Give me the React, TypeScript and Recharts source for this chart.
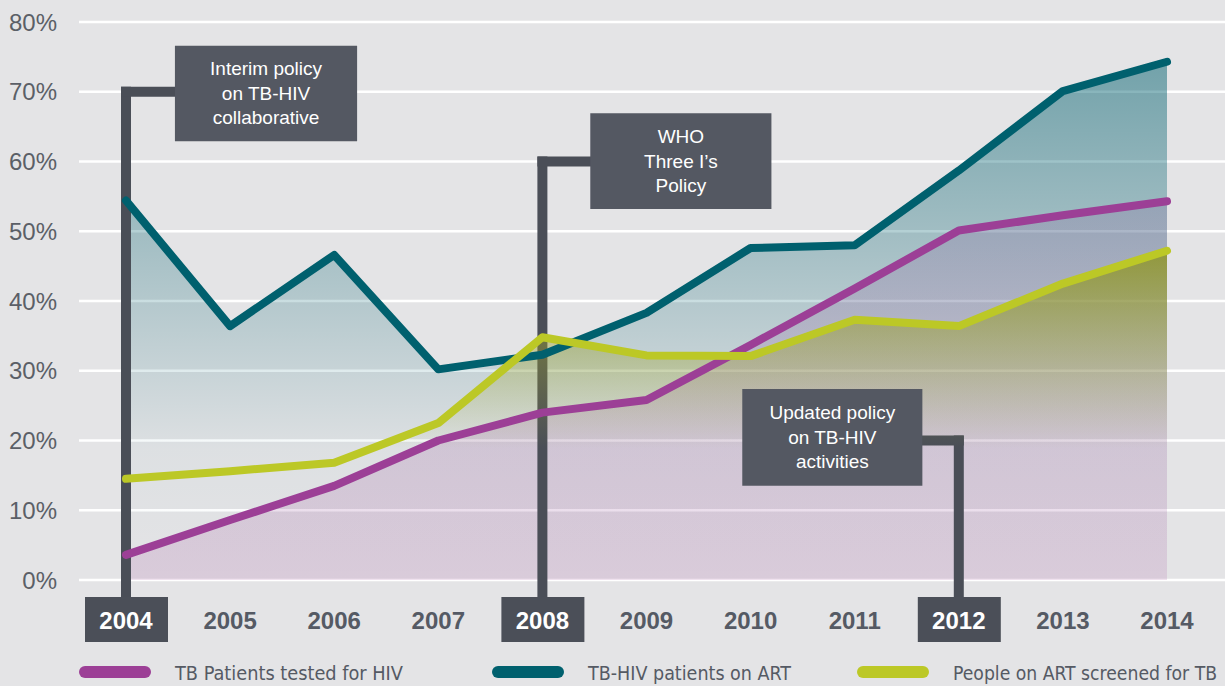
import {
  Area,
  CartesianGrid,
  ComposedChart,
  Legend,
  Line,
  ReferenceArea,
  ReferenceLine,
  XAxis,
  YAxis,
} from "recharts"

const years = [2004, 2005, 2006, 2007, 2008, 2009, 2010, 2011, 2012, 2013, 2014]
const tbTested = [3.6, 8.6, 13.5, 20, 24, 25.8, 33.7, 41.8, 50.1, 52.3, 54.3]
const tbHivArt = [54.4, 36.4, 46.6, 30.2, 32.3, 38.3, 47.6, 48, 58.7, 70.1, 74.3]
const artScreened = [14.5, 15.6, 16.8, 22.5, 34.8, 32.2, 32.1, 37.3, 36.4, 42.5, 47.2]

const yTicks = [0, 10, 20, 30, 40, 50, 60, 70, 80]
const highlightYears = [2004, 2008, 2012]

// policy milestones: year, level of the connector, box extent in data units
const noteYears = [2004, 2008, 2012]
const noteLevels = [70, 60, 20]
const noteTexts = [
  ["Interim policy", "on TB-HIV", "collaborative"],
  ["WHO", "Three I’s", "Policy"],
  ["Updated policy", "on TB-HIV", "activities"],
]
const noteX1 = [2004.47, 2008.46, 2009.92]
const noteX2 = [2006.22, 2010.2, 2011.65]
const noteY1 = [62.9, 53.2, 13.5]
const noteY2 = [76.6, 66.9, 27.4]

const series = [
  { key: "tbHivArt", name: "TB-HIV patients on ART", color: "#00606e" },
  { key: "tbTested", name: "TB Patients tested for HIV", color: "#9c3f96" },
  { key: "artScreened", name: "People on ART screened for TB", color: "#bcc826" },
]
const legendOrder = ["tbTested", "tbHivArt", "artScreened"]

const data = years.map((year, i) => ({
  year,
  tbTested: tbTested[i],
  tbHivArt: tbHivArt[i],
  artScreened: artScreened[i],
}))

const BG = "#e4e4e6"
const DARK = "#545862"
const CONNECTOR = "#4a4e57"
const TEXT = "#555a64"

function YearTick({ x, y, payload }: any) {
  const hl = highlightYears.includes(payload.value)
  return (
    <g>
      {hl && <rect x={x - 41} y={y + 17} width={83} height={45} fill="#4b4f58" />}
      <text
        x={x}
        y={y + 40}
        textAnchor="middle"
        dominantBaseline="central"
        fontFamily="'Liberation Sans', Arial, sans-serif"
        fontWeight="bold"
        fontSize={24}
        fill={hl ? "#ffffff" : TEXT}
      >
        {payload.value}
      </text>
    </g>
  )
}

function NoteLabel({ viewBox, lines }: any) {
  const cx = viewBox.x + viewBox.width / 2
  const cy = viewBox.y + viewBox.height / 2
  return (
    <text
      textAnchor="middle"
      fontFamily="'Liberation Sans', Arial, sans-serif"
      fontSize={19}
      fill="#ffffff"
    >
      {lines.map((l: string, i: number) => (
        <tspan key={i} x={cx} y={cy + (i - 1) * 24.5} dominantBaseline="central">
          {l}
        </tspan>
      ))}
    </text>
  )
}

const LEGEND_X = [79, 492, 857]
const LEGEND_TEXT_W = [228, 203, 264]

function LegendContent() {
  return (
    <svg width={1225} height={40} style={{ display: "block" }}>
      {legendOrder.map((k, i) => {
        const s = series.find((d) => d.key === k)!
        return (
          <g key={k}>
            <line
              x1={LEGEND_X[i] + 6}
              x2={LEGEND_X[i] + 66}
              y1={26}
              y2={26}
              stroke={s.color}
              strokeWidth={12}
              strokeLinecap="round"
            />
            <text
              x={LEGEND_X[i] + 96}
              y={27}
              dominantBaseline="central"
              fontFamily="'DejaVu Sans Condensed', 'DejaVu Sans', sans-serif"
              fontSize={19}
              fill={TEXT}
              textLength={LEGEND_TEXT_W[i]}
              lengthAdjust="spacingAndGlyphs"
            >
              {s.name}
            </text>
          </g>
        )
      })}
    </svg>
  )
}

export default function App() {
  return (
    <div style={{ position: "absolute", left: 0, top: 0, width: 1225, height: 686, background: BG }}>
      <ComposedChart
        width={1225}
        height={686}
        data={data}
        margin={{ top: 22, right: 0, bottom: 0, left: 0 }}
      >
        <defs>
          <linearGradient id="gTeal" x1="0" y1="0" x2="0" y2="1">
            <stop offset="0%" stopColor="#00606e" stopOpacity={0.5} />
            <stop offset="75%" stopColor="#00606e" stopOpacity={0.03} />
            <stop offset="100%" stopColor="#00606e" stopOpacity={0} />
          </linearGradient>
          <linearGradient id="gPurple" x1="0" y1="0" x2="0" y2="1">
            <stop offset="0%" stopColor="#8a5a9a" stopOpacity={0.22} />
            <stop offset="100%" stopColor="#9c3f96" stopOpacity={0.15} />
          </linearGradient>
          <linearGradient id="gLime" x1="0" y1="0" x2="0" y2="1">
            <stop offset="0%" stopColor="#8e9420" stopOpacity={0.82} />
            <stop offset="60%" stopColor="#a9ae3a" stopOpacity={0} />
            <stop offset="100%" stopColor="#a9ae3a" stopOpacity={0} />
          </linearGradient>
        </defs>

        <CartesianGrid vertical={false} stroke="#ffffff" strokeWidth={2.5} />

        <Area
          dataKey="tbHivArt"
          type="linear"
          stroke="none"
          fill="url(#gTeal)"
          fillOpacity={1}
          isAnimationActive={false}
          legendType="none"
        />
        <Area
          dataKey="tbTested"
          type="linear"
          stroke="none"
          fill="url(#gPurple)"
          fillOpacity={1}
          isAnimationActive={false}
          legendType="none"
        />

        {noteYears.map((yr, i) => (
          <ReferenceLine
            key={`v-${yr}`}
            segment={[
              { x: yr, y: -3 },
              { x: yr, y: noteLevels[i] },
            ]}
            ifOverflow="visible"
            stroke={CONNECTOR}
            strokeWidth={10}
            strokeLinecap="square"
            zIndex={100}
          />
        ))}
        {noteYears.map((yr, i) => (
          <ReferenceLine
            key={`h-${yr}`}
            segment={[
              { x: yr, y: noteLevels[i] },
              { x: noteX1[i] > yr ? noteX1[i] : noteX2[i], y: noteLevels[i] },
            ]}
            ifOverflow="visible"
            stroke={CONNECTOR}
            strokeWidth={10}
            strokeLinecap="square"
            zIndex={100}
          />
        ))}

        <Area
          dataKey="artScreened"
          type="linear"
          stroke="none"
          fill="url(#gLime)"
          fillOpacity={1}
          isAnimationActive={false}
          legendType="none"
        />

        {series.map((s) => (
          <Line
            key={s.key}
            dataKey={s.key}
            name={s.name}
            type="linear"
            stroke={s.color}
            strokeWidth={8}
            strokeLinecap="round"
            strokeLinejoin="round"
            dot={false}
            activeDot={false}
            isAnimationActive={false}
          />
        ))}

        {noteYears.map((yr, i) => (
          <ReferenceArea
            key={`box-${yr}`}
            x1={noteX1[i]}
            x2={noteX2[i]}
            y1={noteY1[i]}
            y2={noteY2[i]}
            fill={DARK}
            fillOpacity={1}
            stroke="none"
            zIndex={450}
            label={(p: any) => <NoteLabel viewBox={p.viewBox} lines={noteTexts[i]} />}
          />
        ))}

        <XAxis
          dataKey="year"
          type="number"
          domain={[2004, 2014]}
          ticks={years}
          interval={0}
          padding={{ left: 47, right: 58 }}
          axisLine={false}
          tickLine={false}
          tickSize={0}
          tickMargin={0}
          height={66}
          tick={<YearTick />}
        />
        <YAxis
          domain={[0, 80]}
          ticks={yTicks}
          width={79}
          axisLine={false}
          tickLine={false}
          tickSize={0}
          tickMargin={22}
          tickFormatter={(v: number) => `${v}%`}
          tick={{ fill: "#5b5f67", fontSize: 24, fontFamily: "'Liberation Sans', Arial, sans-serif" }}
        />

        <Legend
          verticalAlign="bottom"
          content={<LegendContent />}
          wrapperStyle={{ left: 0, bottom: 0, width: 1225, height: 40 }}
        />
      </ComposedChart>
    </div>
  )
}
